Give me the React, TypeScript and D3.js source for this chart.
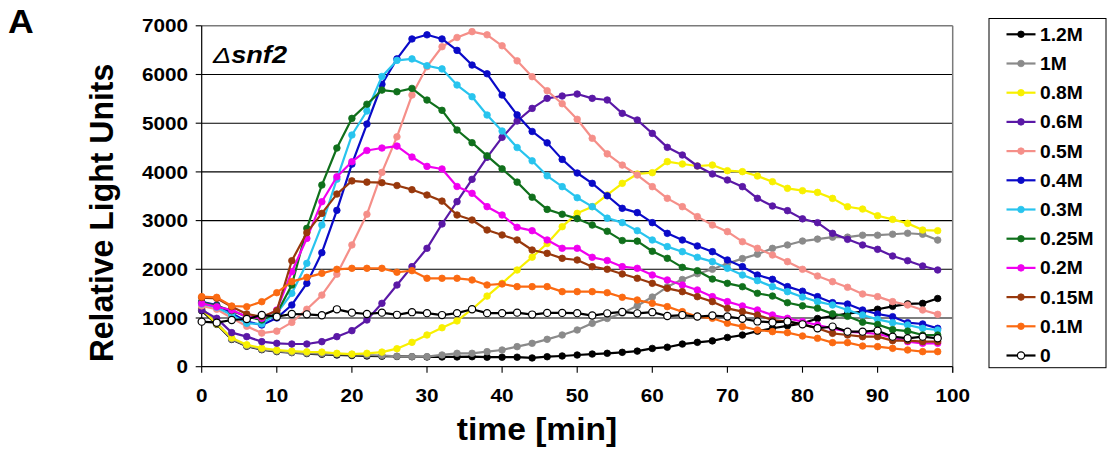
import React from 'react';
import * as d3 from 'd3';

// Sampling times (min) — one reading every 2 minutes
const times = d3.range(0, 100, 2);

const seriesLabels = ['1.2M', '1M', '0.8M', '0.6M', '0.5M', '0.4M', '0.3M', '0.25M', '0.2M', '0.15M', '0.1M', '0'];
const seriesColors = ['#000000', '#8a8a8a', '#f8f000', '#5a18a6', '#f58f89', '#0a0ac8', '#28c4ee', '#10701c', '#f000f0', '#98380c', '#fb6a12', '#000000'];

const salt1_2M = [1150, 870, 560, 420, 350, 310, 290, 270, 255, 240, 230, 220, 215, 210, 205, 200, 200, 200, 205, 195, 195, 195, 180, 205, 220, 240, 260, 275, 295, 320, 375, 400, 465, 500, 530, 600, 650, 730, 790, 840, 890, 990, 1040, 1090, 1130, 1180, 1240, 1290, 1300, 1400];
const salt1M = [1200, 900, 570, 430, 360, 320, 295, 280, 270, 260, 250, 240, 230, 215, 207, 207, 241, 275, 275, 309, 343, 412, 480, 562, 651, 754, 890, 990, 1100, 1250, 1430, 1640, 1790, 1910, 2000, 2120, 2220, 2310, 2430, 2500, 2580, 2620, 2660, 2660, 2700, 2700, 2720, 2740, 2720, 2600];
const salt0_8M = [1180, 880, 590, 450, 380, 340, 320, 305, 300, 275, 260, 275, 300, 370, 500, 651, 800, 940, 1180, 1450, 1712, 1985, 2250, 2530, 2875, 3149, 3286, 3526, 3765, 3957, 3984, 4210, 4162, 4121, 4141, 4025, 4005, 3915, 3799, 3662, 3614, 3579, 3456, 3285, 3237, 3100, 3025, 2943, 2806, 2793];
const salt0_6M = [1164, 993, 699, 617, 514, 480, 466, 466, 514, 617, 740, 959, 1301, 1677, 2054, 2431, 2930, 3389, 3847, 4299, 4709, 5045, 5304, 5510, 5558, 5599, 5510, 5476, 5202, 5065, 4791, 4504, 4347, 4121, 3957, 3833, 3697, 3457, 3300, 3204, 3036, 2957, 2738, 2615, 2499, 2410, 2273, 2177, 2068, 1986];
const salt0_5M = [1250, 1180, 1000, 830, 690, 730, 910, 1180, 1470, 1900, 2500, 3130, 3990, 4720, 5578, 6160, 6570, 6760, 6880, 6815, 6590, 6280, 5955, 5667, 5400, 5080, 4690, 4370, 4140, 3936, 3697, 3457, 3286, 3081, 2910, 2773, 2567, 2431, 2294, 2157, 2000, 1862, 1746, 1630, 1493, 1438, 1336, 1267, 1164, 1075];
const salt0_4M = [1330, 1267, 1096, 925, 856, 1000, 1267, 1711, 2341, 3210, 4160, 4983, 5800, 6320, 6730, 6815, 6730, 6495, 6194, 6015, 5578, 5170, 4830, 4596, 4257, 3977, 3765, 3510, 3252, 3163, 2958, 2738, 2602, 2479, 2362, 2191, 2054, 1883, 1794, 1644, 1550, 1438, 1315, 1287, 1164, 1082, 1027, 904, 877, 788];
const salt0_3M = [1290, 1220, 1062, 890, 877, 1096, 1506, 2122, 2909, 3850, 4757, 5250, 5960, 6290, 6320, 6180, 6115, 5784, 5544, 5168, 4840, 4500, 4227, 3920, 3697, 3470, 3286, 3050, 2958, 2793, 2602, 2465, 2362, 2246, 2157, 2020, 1883, 1767, 1644, 1541, 1430, 1336, 1267, 1164, 1062, 972, 904, 856, 788, 754];
const salt0_25M = [1320, 1250, 1150, 1027, 959, 1096, 1677, 2841, 3730, 4490, 5099, 5390, 5680, 5646, 5714, 5475, 5264, 4860, 4600, 4330, 4062, 3790, 3480, 3230, 3130, 3040, 2909, 2780, 2590, 2578, 2370, 2225, 2040, 1971, 1800, 1712, 1643, 1507, 1451, 1314, 1250, 1200, 1085, 1035, 914, 866, 761, 730, 651, 651];
const salt0_2M = [1300, 1230, 1164, 1027, 993, 1164, 1951, 2635, 3388, 3900, 4209, 4440, 4490, 4530, 4305, 4113, 4060, 3700, 3560, 3286, 3115, 2862, 2793, 2602, 2431, 2431, 2246, 2180, 2054, 2020, 1883, 1781, 1678, 1575, 1438, 1336, 1247, 1165, 1062, 994, 925, 856, 788, 720, 699, 672, 603, 514, 480, 480];
const salt0_15M = [1420, 1404, 1232, 1082, 1027, 1150, 2177, 2752, 3148, 3545, 3815, 3790, 3778, 3720, 3635, 3525, 3400, 3115, 3012, 2807, 2705, 2602, 2396, 2328, 2225, 2191, 2054, 2000, 1904, 1815, 1712, 1609, 1541, 1438, 1336, 1199, 1130, 1062, 959, 925, 870, 788, 685, 651, 617, 617, 535, 535, 514, 514];
const salt0_1M = [1438, 1424, 1246, 1232, 1335, 1520, 1746, 1835, 1917, 2000, 2020, 2020, 2020, 1940, 1972, 1815, 1815, 1815, 1781, 1678, 1699, 1644, 1644, 1644, 1541, 1541, 1541, 1520, 1425, 1370, 1301, 1233, 1130, 1028, 994, 891, 823, 754, 720, 699, 631, 583, 494, 494, 425, 412, 377, 343, 309, 309];
const salt0 = [925, 904, 959, 980, 1062, 1027, 1082, 1075, 1055, 1178, 1110, 1082, 1110, 1065, 1120, 1100, 1060, 1100, 1180, 1100, 1100, 1110, 1070, 1105, 1105, 1100, 1050, 1095, 1125, 1095, 1120, 1040, 1060, 1030, 1050, 1030, 985, 930, 910, 930, 870, 789, 823, 720, 720, 740, 617, 583, 617, 583];

const seriesValues = [salt1_2M, salt1M, salt0_8M, salt0_6M, salt0_5M, salt0_4M, salt0_3M, salt0_25M, salt0_2M, salt0_15M, salt0_1M, salt0];

const xTicks = [0, 10, 20, 30, 40, 50, 60, 70, 80, 90, 100];
const yTicks = [0, 1000, 2000, 3000, 4000, 5000, 6000, 7000];

const FONT = '"Liberation Sans", Arial, Helvetica, sans-serif';

const W = 1108;
const H = 456;
const plot = { left: 201.7, right: 952.7, top: 25.8, bottom: 366.7 };

// Bold text slightly widened horizontally
function WideText({ x, y, size, sx = 1.12, anchor = 'start', children, style }: any) {
  return (
    <text
      transform={`translate(${x},${y}) scale(${sx},1)`}
      textAnchor={anchor}
      fontFamily={FONT}
      fontWeight="bold"
      fontSize={size}
      fill="#000"
      style={style}
    >
      {children}
    </text>
  );
}

export default function App() {
  const x = d3.scaleLinear().domain([0, 100]).range([plot.left, plot.right]);
  const y = d3.scaleLinear().domain([0, 7000]).range([plot.bottom, plot.top]);
  const line = d3
    .line<number>()
    .x((_, i) => x(times[i]))
    .y((d) => y(d));

  const legendX = 989;
  const legendTop = 18.5;
  const legendRowY = (i: number) => 34.3 + i * 29.2;

  return (
    <svg
      width={W}
      height={H}
      viewBox={`0 0 ${W} ${H}`}
      style={{ position: 'absolute', left: 0, top: 0, background: '#fff' }}
    >
      <rect x={0} y={0} width={W} height={H} fill="#fff" />

      {/* horizontal gridlines */}
      {yTicks
        .filter((t) => t > 0 && t < 7000)
        .map((t) => (
          <line key={t} x1={plot.left} x2={plot.right} y1={y(t)} y2={y(t)} stroke="#000" strokeWidth={1.1} />
        ))}
      {/* plot frame top and right */}
      <line x1={plot.left} x2={plot.right} y1={y(7000)} y2={y(7000)} stroke="#7a7a7a" strokeWidth={1.5} />
      <line x1={plot.right} x2={plot.right} y1={y(7000)} y2={plot.bottom + 6} stroke="#7a7a7a" strokeWidth={1.5} />

      {/* axes */}
      <line x1={plot.left} x2={plot.left} y1={plot.top} y2={plot.bottom} stroke="#000" strokeWidth={1.2} />
      <line x1={plot.left} x2={plot.right} y1={plot.bottom} y2={plot.bottom} stroke="#000" strokeWidth={1.2} />
      {yTicks.map((t) => (
        <g key={t}>
          <line x1={plot.left - 6} x2={plot.left} y1={y(t)} y2={y(t)} stroke="#000" strokeWidth={1.1} />
          <WideText x={188} y={y(t) + 6.6} size={18.5} anchor="end">
            {t}
          </WideText>
        </g>
      ))}
      {xTicks.map((t) => (
        <g key={t}>
          <line x1={x(t)} x2={x(t)} y1={plot.bottom} y2={plot.bottom + 6} stroke="#000" strokeWidth={1.1} />
          <WideText x={x(t)} y={402} size={18.5} anchor="middle">
            {t}
          </WideText>
        </g>
      ))}

      {/* series */}
      {seriesValues.map((vals, si) => (
        <g key={seriesLabels[si]}>
          <path d={line(vals) || ''} fill="none" stroke={seriesColors[si]} strokeWidth={2.2} strokeLinejoin="round" />
          {vals.map((v, i) => (
            <circle
              key={i}
              cx={x(times[i])}
              cy={y(v)}
              r={si === 11 ? 3.6 : 3.3}
              fill={si === 11 ? '#fff' : seriesColors[si]}
              stroke={si === 11 ? '#000' : seriesColors[si]}
              strokeWidth={si === 11 ? 1.2 : 0.8}
            />
          ))}
        </g>
      ))}

      {/* strain label */}
      <text
        transform="translate(213,63) scale(1.18,1)"
        fontFamily={FONT}
        fontStyle="italic"
        fontSize={23}
        fill="#000"
      >
        <tspan fontWeight="normal">Δ</tspan>
        <tspan fontWeight="bold">snf2</tspan>
      </text>

      {/* axis titles */}
      <WideText x={537} y={440} size={32} sx={1.05} anchor="middle">
        time [min]
      </WideText>
      <text
        transform="translate(113,213) rotate(-90) scale(1.0,1.05)"
        textAnchor="middle"
        fontFamily={FONT}
        fontWeight="bold"
        fontSize={32}
        fill="#000"
      >
        Relative Light Units
      </text>

      {/* panel letter */}
      <WideText x={8} y={33} size={33} sx={1.08}>
        A
      </WideText>

      {/* legend */}
      <rect x={legendX} y={legendTop} width={1106 - legendX} height={367.7 - legendTop} fill="#fff" stroke="#000" strokeWidth={1} />
      {seriesLabels.map((lab, i) => {
        const cy = legendRowY(i);
        return (
          <g key={lab}>
            <line x1={1006.5} x2={1035.5} y1={cy} y2={cy} stroke={seriesColors[i]} strokeWidth={2.2} />
            <circle
              cx={1021}
              cy={cy}
              r={i === 11 ? 3.6 : 3.3}
              fill={i === 11 ? '#fff' : seriesColors[i]}
              stroke={i === 11 ? '#000' : seriesColors[i]}
              strokeWidth={i === 11 ? 1.2 : 0.8}
            />
            <WideText x={1040} y={cy + 6.5} size={17.5} sx={1.1}>
              {lab}
            </WideText>
          </g>
        );
      })}
    </svg>
  );
}
